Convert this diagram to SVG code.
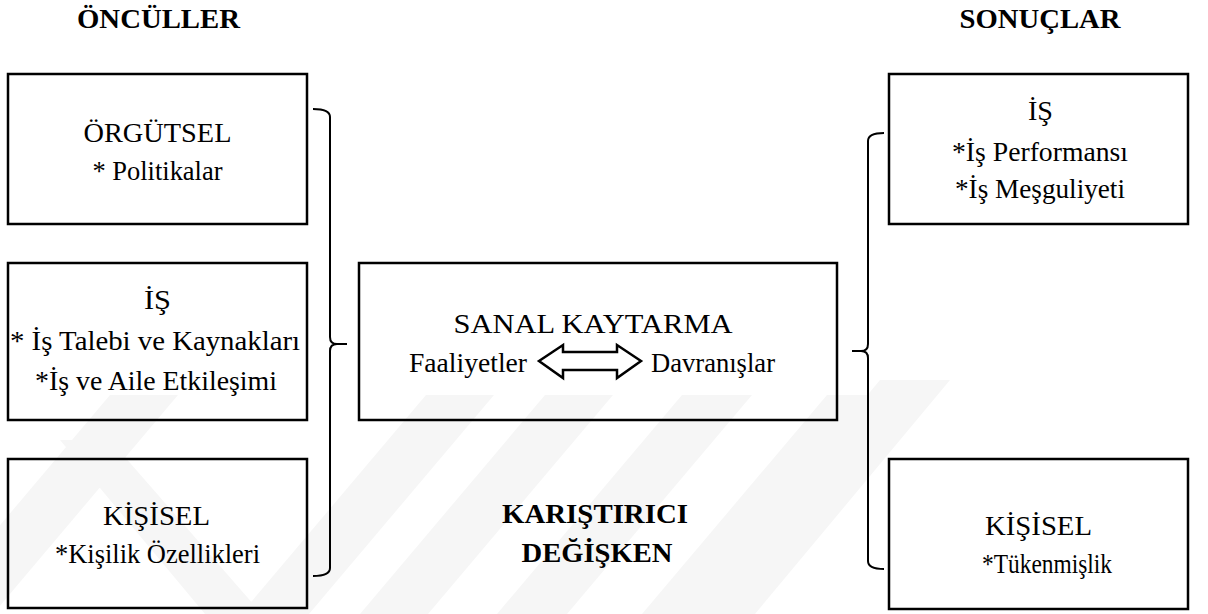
<svg xmlns="http://www.w3.org/2000/svg" width="1208" height="614" viewBox="0 0 1208 614">
<style>
.box{fill:none;stroke:#000;stroke-width:2.5}
.br{fill:none;stroke:#000;stroke-width:2}
.t{font-family:"Liberation Serif","Times New Roman",serif;font-size:28px;fill:#000;text-anchor:middle}
.h{font-family:"Liberation Serif","Times New Roman",serif;font-size:28px;font-weight:bold;fill:#000;text-anchor:middle}
.wm{fill:#f6f6f6}
</style>
<rect width="1208" height="614" fill="#fff"/>
<g id="watermark">
<polygon class="wm" points="110,395 178,395 -7,614 -75,614"/>
<polygon class="wm" points="60,440 110,440 262,614 205,614"/>
<polygon class="wm" points="426,395 494,395 309,614 241,614"/>
<polygon class="wm" points="545,395 613,395 428,614 360,614"/>
<polygon class="wm" points="682,395 752,395 567,614 497,614"/>
<polygon class="wm" points="827,395 895,395 710,614 642,614"/>
<polygon class="wm" points="880,380 950,380 755,614 685,614"/>
</g>
<g id="headers">
<text class="h" x="158.5" y="28" textLength="163" lengthAdjust="spacingAndGlyphs">ÖNCÜLLER</text>
<text class="h" x="1040" y="28" textLength="161" lengthAdjust="spacingAndGlyphs">SONUÇLAR</text>
</g>
<g id="connectors">
<path class="br" d="M313,109 Q330,109 330,117 V337 Q330,344 337,344 H347 M337,344 Q330,344 330,351 V568 Q330,576 313,576"/>
<path class="br" d="M884,133 Q868,133 868,141 V344 Q868,351 861,351 H852 M861,351 Q868,351 868,358 V561 Q868,569 884,569"/>
</g>
<g id="orgutsel">
<rect class="box" x="8" y="74" width="299" height="150"/>
<text class="t" x="157.5" y="142" textLength="148" lengthAdjust="spacingAndGlyphs">ÖRGÜTSEL</text>
<text class="t" x="157.5" y="180" textLength="130" lengthAdjust="spacingAndGlyphs">* Politikalar</text>
</g>
<g id="is-left">
<rect class="box" x="8" y="263" width="299" height="157"/>
<text class="t" x="157.5" y="309" textLength="27" lengthAdjust="spacingAndGlyphs">İŞ</text>
<text class="t" x="155" y="350" textLength="290" lengthAdjust="spacingAndGlyphs">* İş Talebi ve Kaynakları</text>
<text class="t" x="156" y="390" textLength="242" lengthAdjust="spacingAndGlyphs">*İş ve Aile Etkileşimi</text>
</g>
<g id="kisisel-left">
<rect class="box" x="8" y="459" width="299" height="149"/>
<text class="t" x="156.5" y="525" textLength="107" lengthAdjust="spacingAndGlyphs">KİŞİSEL</text>
<text class="t" x="157.5" y="563" textLength="205" lengthAdjust="spacingAndGlyphs">*Kişilik Özellikleri</text>
</g>
<g id="sanal-kaytarma">
<rect class="box" x="359" y="263" width="478" height="157"/>
<text class="t" x="593" y="333" textLength="279" lengthAdjust="spacingAndGlyphs">SANAL KAYTARMA</text>
<text class="t" x="468" y="372" textLength="118" lengthAdjust="spacingAndGlyphs">Faaliyetler</text>
<path d="M539,361 L563,345 L563,352 L617,352 L617,345 L641,361 L617,378 L617,370 L563,370 L563,378 Z" fill="#fff" stroke="#000" stroke-width="2.5" stroke-linejoin="miter"/>
<text class="t" x="713" y="372" textLength="124" lengthAdjust="spacingAndGlyphs">Davranışlar</text>
</g>
<g id="karistirici">
<text class="h" x="595" y="523" textLength="186" lengthAdjust="spacingAndGlyphs">KARIŞTIRICI</text>
<text class="h" x="597" y="562" textLength="151" lengthAdjust="spacingAndGlyphs">DEĞİŞKEN</text>
</g>
<g id="is-right">
<rect class="box" x="889" y="74" width="299" height="150"/>
<text class="t" x="1040.5" y="120" textLength="25" lengthAdjust="spacingAndGlyphs">İŞ</text>
<text class="t" x="1040" y="161" textLength="176" lengthAdjust="spacingAndGlyphs">*İş Performansı</text>
<text class="t" x="1040" y="198" textLength="170" lengthAdjust="spacingAndGlyphs">*İş Meşguliyeti</text>
</g>
<g id="kisisel-right">
<rect class="box" x="889" y="459" width="299" height="150"/>
<text class="t" x="1038.5" y="535" textLength="107" lengthAdjust="spacingAndGlyphs">KİŞİSEL</text>
<text class="t" x="1047" y="573" textLength="130" lengthAdjust="spacingAndGlyphs">*Tükenmişlik</text>
</g>
</svg>
